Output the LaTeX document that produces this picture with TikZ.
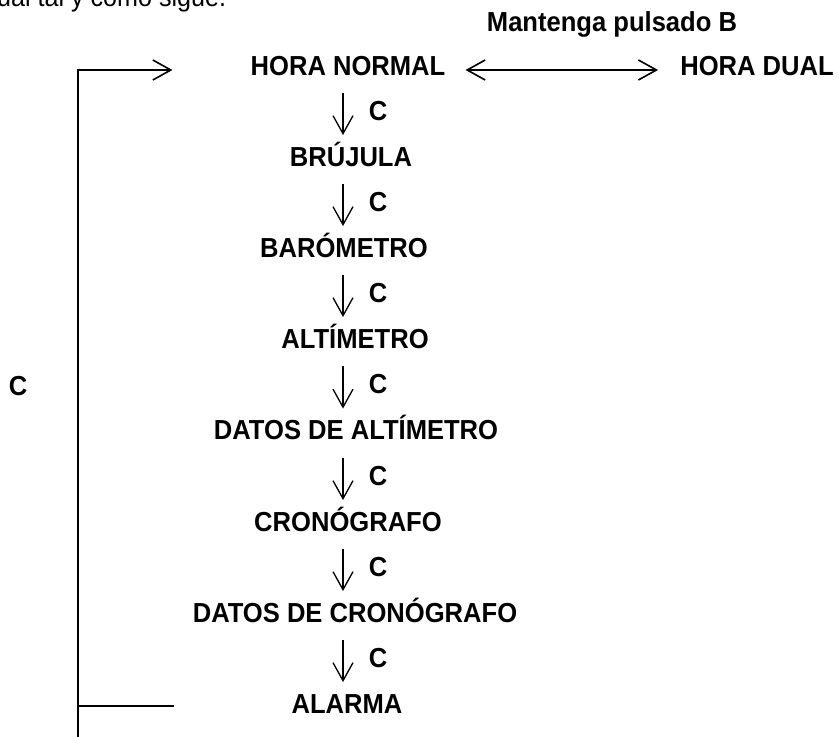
\documentclass[tikz,border=0pt]{standalone}
\usepackage{fontspec}
\setmainfont{Liberation Sans}[FakeStretch=0.93]
\usetikzlibrary{arrows.meta}

\begin{document}
\begin{tikzpicture}
        [x=1pt, y=-1pt, inner sep=0pt,
        mode/.style={anchor=base, font=\fontsize{27.5}{32}\selectfont\bfseries},
        clab/.style={anchor=base, font=\fontsize{27.5}{32}\selectfont\bfseries},
        flow/.style={line width=1.3pt, -{Straight Barb[length=18pt,width=20pt]}, shorten <=18pt, shorten >=31pt},
        swap/.style={line width=1.6pt, {Straight Barb[length=18pt,width=20pt]}-{Straight Barb[length=18pt,width=20pt]}, shorten <=20pt, shorten >=22pt},
        loopline/.style={line width=2.4pt}]

        \useasboundingbox (0,0) rectangle (839,737);

        \node[anchor=base west, font=\fontsize{27}{30}\selectfont] (intro) at (-17, 6) {dual tal y como sigue.};

        \node[mode] (mp) at (612, 31) {Mantenga pulsado B};
        \node[mode] (hn) at (348, 75) {HORA NORMAL};
        \node[mode] (hd) at (757, 75) {HORA DUAL};
        \node[mode] (br) at (351, 166) {BRÚJULA};
        \node[mode] (ba) at (344, 257) {BARÓMETRO};
        \node[mode] (al) at (355, 348) {ALTÍMETRO};
        \node[mode] (da) at (356, 439.5) {DATOS DE ALTÍMETRO};
        \node[mode] (cr) at (348, 531) {CRONÓGRAFO};
        \node[mode] (dc) at (355, 622) {DATOS DE CRONÓGRAFO};
        \node[mode] (alm) at (347, 713) {ALARMA};

        \node[clab] (cl) at (18, 395) {C};

        \coordinate (axis) at (343, 0);
        \coordinate (lb) at (78, 745);

        % C steps down the list
        \draw[flow] (hn.base -| axis) -- (br.base -| axis) node[clab, pos=0.5, xshift=35pt] {C};
        \draw[flow] (br.base -| axis) -- (ba.base -| axis) node[clab, pos=0.5, xshift=35pt] {C};
        \draw[flow] (ba.base -| axis) -- (al.base -| axis) node[clab, pos=0.5, xshift=35pt] {C};
        \draw[flow] (al.base -| axis) -- (da.base -| axis) node[clab, pos=0.5, xshift=35pt] {C};
        \draw[flow] (da.base -| axis) -- (cr.base -| axis) node[clab, pos=0.5, xshift=35pt] {C};
        \draw[flow] (cr.base -| axis) -- (dc.base -| axis) node[clab, pos=0.5, xshift=35pt] {C};
        \draw[flow] (dc.base -| axis) -- (alm.base -| axis) node[clab, pos=0.5, xshift=35pt] {C};

        % hold B
        \draw[swap] ([yshift=5pt]hn.base east) -- ([yshift=5pt]hd.base west);

        % back to the top
        \draw[loopline, -{Straight Barb[length=18pt,width=20pt,line width=1.6pt]}, shorten >=78pt] (lb) |- ([yshift=5pt]hn.base west);
        \draw[loopline] ([yshift=7pt]alm.base west -| lb) -- ([yshift=7pt, xshift=-117pt]alm.base west);

    \end{tikzpicture}
\end{document}
